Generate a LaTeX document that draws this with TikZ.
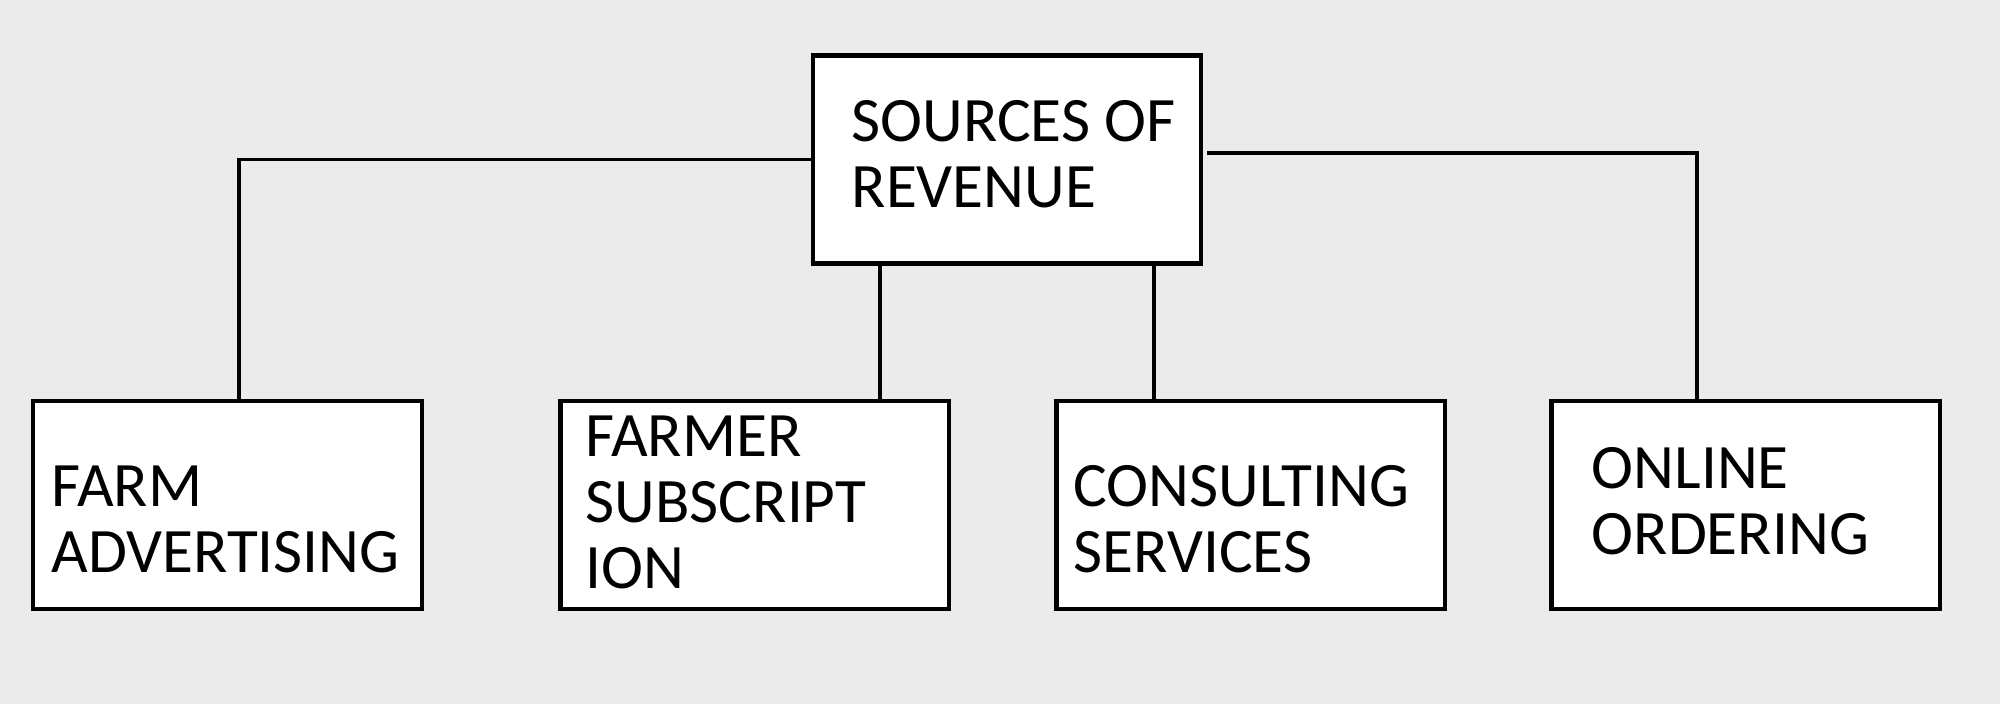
\documentclass[tikz,border=0pt]{standalone}
\usepackage{fontspec}
\setmainfont{Carlito}
\usetikzlibrary{positioning, calc}

\definecolor{bgcol}{HTML}{EBEBEB}

\tikzset{
    box/.style={draw=black, line width=1.2pt, fill=white, minimum width=3.88cm, minimum height=2.08cm, inner sep=0pt},
    lbl/.style={anchor=base west, inner sep=0pt, align=left, font=\fontsize{18}{18.8}\selectfont},
    link/.style={draw=black, line width=1pt}
}

\begin{document}
\begin{tikzpicture}[x=0.01cm, y=-0.01cm]
    % background
    \fill[bgcol] (0,0) rectangle (2000,704);
    \useasboundingbox (0,0) rectangle (2000,704);

    % top box
    \node[box] (rev) at (1007,159.5) {};
    \node[lbl] (revtxt) at (851,208) {SOURCES OF\\REVENUE};

    % bottom boxes
    \node[box] (farm) at (227.5,505) {};
    \node[box] (sub) at (754.5,505) {};
    \node[box] (cons) at (1250.5,505) {};
    \node[box] (online) at (1745.5,505) {};

    % labels (anchored at the last line)
    \node[lbl] (farmtxt) at (51,573) {FARM\\ADVERTISING};
    \node[lbl] (subtxt) at (585,589) {FARMER\\SUBSCRIPT\\ION};
    \node[lbl] (constxt) at (1073,573) {CONSULTING\\SERVICES};
    \node[lbl] (onlinetxt) at (1591,555) {ONLINE\\ORDERING};

    % connectors
    \coordinate (c1) at ($(farm.north)+(11.5,0)$);
    \coordinate (c2) at (880,400);
    \coordinate (c3) at (1154,400);
    \coordinate (c4) at (1697,400);
    \coordinate (r0) at (1207,153);

    \draw[link] (rev.west) -| (c1);
    \draw[link] (c2 |- rev.south) -- (c2);
    \draw[link] (c3 |- rev.south) -- (c3);
    \draw[link] (r0) -| (c4);
\end{tikzpicture}
\end{document}
